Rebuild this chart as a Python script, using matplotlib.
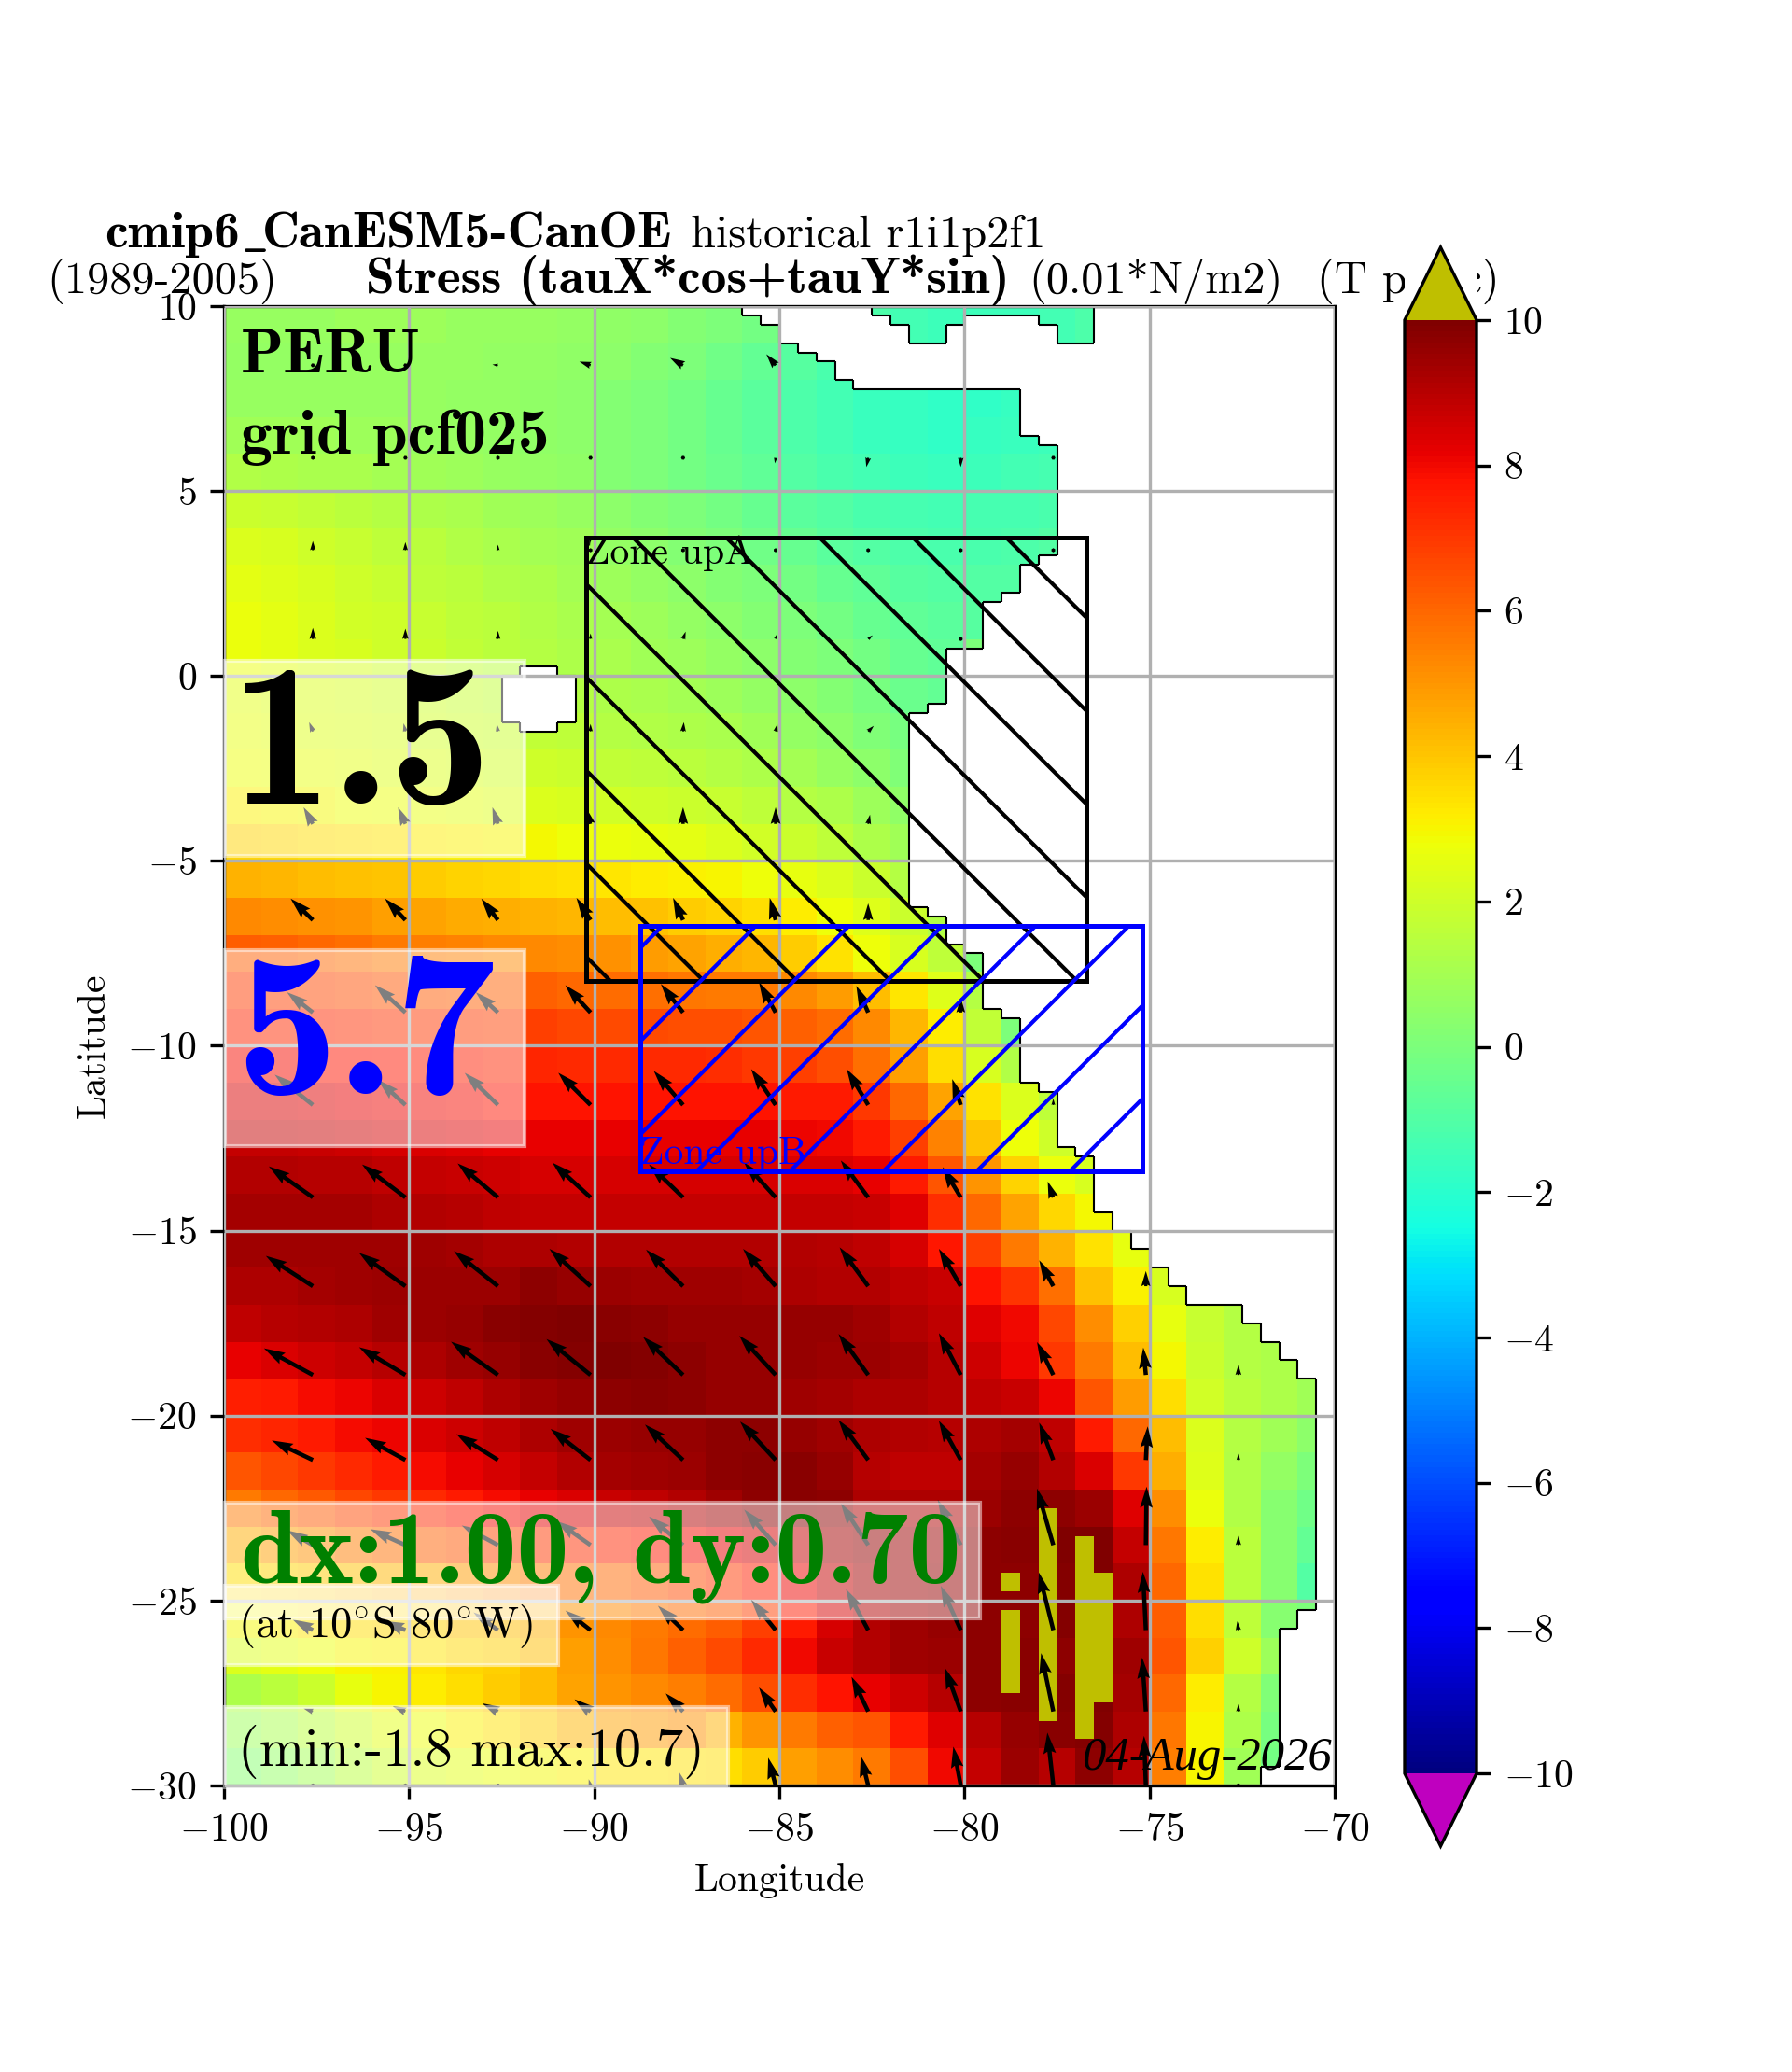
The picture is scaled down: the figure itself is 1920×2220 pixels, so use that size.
import numpy as np
import matplotlib
matplotlib.use('Agg')
import matplotlib.pyplot as plt
from matplotlib.collections import LineCollection
from matplotlib.patches import Rectangle

plt.rcParams['font.family'] = ['cmr10', 'DejaVu Serif']
plt.rcParams['mathtext.fontset'] = 'cm'
plt.rcParams['axes.formatter.use_mathtext'] = True
plt.rcParams['axes.unicode_minus'] = True

# stress field, 1 degree rows from 9.5N southward, columns from 99.5W eastward
field_n = [
 [.7,.7,.7,.8,.8,.8,.7,.7,.7,.6,.5,.4,.2,.0,-.2,-.5,-.8,-1.1,-1.4,-1.5,-1.5,-1.5,-1.4,-1.1,-.8],
 [.6,.6,.6,.7,.7,.7,.7,.6,.6,.5,.4,.2,0,-.3,-.6,-.9,-1.2,-1.4,-1.6,-1.6,-1.6,-1.5,-1.3,-1.1],
 [.7,.7,.7,.7,.7,.7,.6,.6,.5,.4,.2,0,-.2,-.5,-.8,-1.1,-1.4,-1.6,-1.7,-1.8,-1.8,-1.7],
 [.9,.9,.9,.8,.8,.7,.7,.6,.5,.4,.2,0,-.2,-.5,-.8,-1.1,-1.4,-1.6,-1.7,-1.8,-1.7,-1.6,-1.5],
 [1.3,1.2,1.1,1.1,1,.9,.8,.7,.6,.5,.2,0,-.2,-.4,-.7,-1,-1.2,-1.4,-1.5,-1.6,-1.5,-1.4,-1.3],
 [1.9,1.8,1.7,1.5,1.4,1.2,1.1,.9,.8,.7,.4,.2,0,-.2,-.5,-.8,-1,-1.2,-1.3,-1.4,-1.3,-1.3,-1.2],
 [2.3,2.2,2,1.8,1.6,1.5,1.3,1.1,1,.9,.6,.4,.2,0,-.3,-.5,-.8,-1,-1.1,-1.2,-1.2,-1.1,-1],
 [2.5,2.4,2.2,2,1.8,1.6,1.5,1.3,1.2,1,.8,.6,.4,.2,0,-.2,-.5,-.7,-.9,-1,-1,-1],
 [2.7,2.5,2.3,2.1,2,1.8,1.6,1.5,1.3,1.1,1,.8,.6,.4,.2,0,-.2,-.5,-.7,-.8,-.9],
 [2.7,2.5,2.3,2.2,2,1.9,1.7,1.5,1.4,1.2,1.1,.9,.8,.6,.4,.2,0,-.2,-.5,-.7],
]
field_eq = [
 [2.5,2.4,2.3,2.2,2.1,2,1.8,1.7,1.5,1.4,1.2,1.1,1,.8,.6,.4,.2,-.1,-.4,-.6],
 [2.6,2.5,2.4,2.3,2.2,2.1,2,1.9,1.7,1.6,1.4,1.3,1.2,1.1,.9,.6,.4,.1,-.1],
 [2.8,2.7,2.6,2.5,2.4,2.3,2.2,2.1,2,1.9,1.7,1.6,1.5,1.4,1.2,1,.7,.4,.1],
 [3.1,3,2.9,2.8,2.7,2.6,2.5,2.4,2.3,2.2,2.1,2,1.9,1.8,1.6,1.4,1.2,.8,.5],
 [3.7,3.6,3.5,3.4,3.3,3.2,3.1,3,2.9,2.8,2.7,2.6,2.5,2.3,2.1,1.9,1.6,1.2,.9],
 [4.4,4.3,4.2,4.1,4,3.9,3.7,3.6,3.5,3.4,3.3,3.2,3.1,3,2.8,2.6,2.3,1.9,1.4],
 [5.3,5.2,5.1,5,4.8,4.7,4.6,4.5,4.4,4.3,4.2,4.1,3.9,3.7,3.5,3.2,2.8,2.4,1.9,1.3],
 [6.2,6.1,6,5.8,5.6,5.5,5.4,5.3,5.3,5.2,5.1,4.9,4.7,4.5,4.3,3.9,3.4,2.8,2.2,1.6],
 [6.9,6.8,6.7,6.5,6.4,6.3,6.2,6.1,6.1,6,5.9,5.8,5.7,5.6,5.6,5.3,4.9,4.2,3.3,2.4,1.4],
 [7.4,7.3,7.3,7.2,7.1,7,6.9,6.8,6.8,6.7,6.6,6.6,6.5,6.5,6.4,6.1,5.9,5.3,4.3,3.2,1.7],
]
field_s1 = [
 [7.9,7.9,7.8,7.8,7.7,7.6,7.5,7.4,7.4,7.3,7.3,7.3,7.3,7.2,7.0,6.8,6.5,5.8,4.8,3.5,2.2,1.3],
 [8.4,8.4,8.3,8.2,8.1,8,7.9,7.8,7.8,7.8,7.8,7.8,7.8,7.8,7.8,7.6,7.6,7.0,6,4.7,3.4,2.3,1.6],
 [8.8,8.8,8.7,8.6,8.5,8.4,8.3,8.2,8.2,8.2,8.2,8.2,8.2,8.2,8.2,8.1,8,7.6,6.8,5.4,4,2.8,2],
 [9.1,9.1,9,9,8.9,8.8,8.7,8.6,8.5,8.5,8.5,8.5,8.5,8.5,8.5,8.4,8.4,8.2,7.6,6.4,5,3.7,2.7,2.2],
 [9.3,9.3,9.3,9.3,9.2,9.1,9,8.9,8.8,8.8,8.8,8.8,8.8,8.8,8.8,8.8,8.8,8.7,8.3,7.2,6,4.7,3.6,2.9],
 [9.4,9.4,9.4,9.4,9.4,9.4,9.3,9.2,9.2,9.1,9.1,9.1,9.1,9.1,9.1,9.1,9,8.9,8.5,7.7,6.8,5.6,4.4,3.4,2.6],
 [9.2,9.2,9.3,9.4,9.5,9.5,9.5,9.5,9.7,9.6,9.5,9.4,9.4,9.4,9.3,9.2,9.1,9.1,8.9,8.7,7.8,7.1,5.8,4.1,3.1,2.2],
 [8.9,9,9.1,9.2,9.4,9.5,9.6,9.8,9.9,10,9.8,9.7,9.6,9.6,9.6,9.6,9.6,9.4,9.1,8.9,8.3,8,6.7,5.2,3.8,2.6,1.8,1.4],
 [8.2,8.4,8.6,8.8,9,9.2,9.4,9.6,9.8,9.9,10,9.9,9.7,9.6,9.6,9.6,9.5,9.5,9.3,9,8.6,8.1,7,5.6,4.2,2.9,1.9,1.4,1.2],
 [7.5,7.6,7.9,8.1,8.4,8.6,8.9,9.2,9.4,9.6,9.7,9.8,9.7,9.6,9.6,9.4,9.3,9.2,9.2,9,8.9,8.7,8.1,6.4,4.9,3.5,2.1,1.5,1.2,.9],
]
field_s2 = [
 [7.2,7.4,7.6,7.9,8.1,8.4,8.6,8.9,9.2,9.4,9.5,9.6,9.6,9.7,9.7,9.6,9.4,9.2,9.1,9,9.2,9.3,8.9,7.6,6,4.2,2.3,1.4,.9,.4],
 [6.4,6.7,7,7.3,7.6,7.9,8.2,8.5,8.8,9.1,9.3,9.4,9.5,9.7,9.8,9.8,9.6,9,8.9,8.9,9.3,9.6,9.1,8.4,7,4.5,2.4,1.3,.6,.0],
 [5.6,6,6.3,6.7,7,7.3,7.6,7.9,8.2,8.4,8.7,8.9,9.1,9.4,9.7,9.8,9.7,9.2,9.2,9.2,9.5,9.7,9.7,9.5,8.3,5.2,2.7,1.3,.3,-.3],
 [4.5,4.8,5.1,5.5,5.8,6.1,6.4,6.7,7,7.2,7.4,7.6,7.9,8.2,8.5,8.8,9.3,9.6,9.5,9.5,9.7,9.8,10,10,8.8,5.7,3.2,1.5,.3,-.6],
 [3.5,3.7,3.9,4.1,4.3,4.5,4.9,5.2,5.5,5.8,6,6.3,6.6,7,7.5,8.1,8.8,9.3,9.5,9.6,9.7,9.7,9.9,10,9.2,6,3.4,1.5,.3,-1],
 [2.9,3.1,3.3,3.5,3.6,3.7,4,4.2,4.4,5,5.3,5.6,5.9,6.2,6.8,7.6,8.5,9.1,9.4,9.6,9.7,9.7,9.9,9.9,9.2,6.2,3.5,1.6,.3],
 [2.3,2.5,2.8,3,3.1,3.3,3.6,3.8,4.2,4.8,5.2,5.7,6.1,6.6,7.3,8,8.7,9.1,9.4,9.5,9.7,9.8,9.7,10,9.4,6.4,3.8,2,.8],
 [1.2,1.5,1.9,2.6,3,3.2,3.5,3.9,4.2,4.7,5,5.3,5.5,5.9,6.5,7.2,7.8,8.2,8.6,9,9.7,9.8,9.9,10,9.3,6,3.2,1.4,.1],
 [.8,1.1,1.5,2,2.5,2.8,3.1,3.4,3.8,4.3,4.7,4.9,5.1,4.4,5,5.6,6.1,6.4,7.6,8.3,9,9.6,9.8,9.9,9.2,5.7,3,1.2,-.1],
 [.3,.6,1,1.5,2,2.3,2.5,2.7,2.9,3.1,3.3,3.3,3.4,3.5,3.9,4.8,5.2,5.6,6.5,8,8.8,9.5,9,9.7,9,5.5,3,.9,-.2],
]

# cells above the colour range: lon west, lon east, lat top, lat bottom
over_west = [-79.0, -79.0, -78.0, -77.0, -76.5]
over_east = [-78.5, -78.5, -77.5, -76.5, -76.0]
over_top = [-24.25, -25.25, -22.5, -23.25, -24.25]
over_bot = [-24.75, -27.5, -28.25, -28.75, -27.75]

# east limit of the open ocean on the South American side
coast_lat_top = [10, 9.75, 9.5, 9.0, 8.75, 8.5, 8.0, 7.75, 6.5, 6.25, 3.25, 3.0, 2.25, 2.0, 0.75, -0.75, -1.0,
                 -6.25, -6.5, -7.25, -7.5, -9.0, -9.25, -11.0, -11.25, -12.75, -13.0, -14.5, -15.0, -15.5, -16.0,
                 -16.5, -17.0, -17.5, -18.0, -18.5, -19.0, -25.25, -25.75, -29.5]
coast_lon = [-86, -85.5, -85, -84.5, -84, -83.5, -83, -78.5, -78, -77.5, -78, -78.5, -79, -79.5, -80.5, -81, -81.5,
             -81, -80.5, -80, -79.5, -79, -78.5, -78, -77.5, -77, -76.5, -76, -75.5, -75, -74.5,
             -74, -72.5, -72, -71.5, -71, -70.5, -71, -71.5, -72]

# Caribbean water in the top right corner: lat top, lat bottom, lon west, lon east
carib_top = [10.0, 9.75, 9.75, 9.5, 9.5]
carib_bot = [9.75, 9.5, 9.5, 9.0, 9.0]
carib_west = [-82.5, -82.0, -78.0, -81.5, -77.5]
carib_east = [-76.5, -80.0, -76.5, -80.5, -76.5]

# Galapagos land cells: lat top, lat bottom, lon west, lon east
gala_top = [0.25, 0.0, -1.25]
gala_bot = [0.0, -1.25, -1.5]
gala_west = [-92.0, -92.5, -92.0]
gala_east = [-91.0, -90.5, -91.0]

# stress arrows
arrow_lon = [-97.6, -95.1, -92.6, -90.1, -87.6, -85.1, -82.6, -80.1, -77.6, -75.1, -72.6]
arrow_lat = [8.4, 5.9, 3.4, 1.0, -1.5, -4.0, -6.6, -9.1, -11.6, -14.1, -16.5, -18.9, -21.2, -23.5, -25.8, -28.0, -30.0]
N = np.nan
arrow_u = [
 [-.05,-.05,-.15,-.3,-.35,-.25,N,N,N,N,N],
 [0,.03,0,0,.05,-.02,-.05,0,.05,N,N],
 [0,0,0,0,0,0,0,0,0,N,N],
 [0,0,0,0,.07,.05,.12,.05,N,N,N],
 [-.1,-.05,-.03,0,.02,.05,.15,N,N,N,N],
 [-.25,-.2,-.15,-.1,0,0,.05,N,N,N,N],
 [-.6,-.55,-.45,-.38,-.27,-.16,0,N,N,N,N],
 [-.7,-.82,-.6,-.68,-.6,-.45,-.32,0,N,N,N],
 [-1.03,-.74,-.9,-.87,-.79,-.66,-.58,-.23,0,N,N],
 [-1.19,-1.17,-1.09,-1.03,-.92,-.85,-.74,-.49,-.15,N,N],
 [-1.27,-1.25,-1.19,-1.11,-1.0,-.88,-.77,-.59,-.38,0,N],
 [-1.32,-1.25,-1.27,-1.19,-1.08,-.98,-.8,-.59,-.44,-.07,0],
 [-1.11,-1.09,-1.12,-1.08,-1.03,-.96,-.8,-.59,-.38,.05,0],
 [-.7,-.95,-.98,-.92,-.92,-.85,-.74,-.62,-.44,.02,0],
 [-.55,-.6,-.66,-.68,-.68,-.66,-.6,-.54,-.39,-.08,-.03],
 [-.25,-.34,-.42,-.43,-.47,-.45,-.45,-.43,-.33,-.1,0],
 [0,0,-.02,-.05,-.1,-.2,-.2,-.2,-.16,-.05,0],
]
arrow_v = [
 [0,0,.02,.1,.2,.3,N,N,N,N,N],
 [-.05,-.08,-.05,0,-.1,-.15,-.25,-.25,-.1,N,N],
 [.25,.22,.15,.03,.03,.03,.03,.03,.03,N,N],
 [.3,.28,.22,.15,.2,.15,.1,.02,N,N,N],
 [.25,.22,.2,.2,.25,.2,.15,N,N,N,N],
 [.45,.45,.45,.4,.45,.45,.25,N,N,N,N],
 [.58,.58,.58,.6,.6,.6,.45,N,N,N,N],
 [.55,.74,.55,.74,.77,.82,.72,.4,N,N,N],
 [.82,.68,.87,.87,.92,.97,.97,.7,.17,N,N],
 [.84,.89,.92,.94,.89,.94,1.0,.82,.43,N,N],
 [.82,.9,.95,1.01,.99,1.01,1.05,1.01,.7,.41,N],
 [.72,.75,.9,.97,1.03,1.06,1.11,1.13,.89,.74,.27],
 [.53,.6,.7,.84,.96,1.04,1.08,1.06,1.01,.91,.17],
 [.4,.43,.53,.65,.77,.96,1.13,1.22,1.53,1.58,.25],
 [.29,.25,.48,.53,.66,.82,1.11,1.2,1.56,1.58,.24],
 [.08,.14,.22,.33,.49,.65,.94,1.18,1.58,1.46,.2],
 [.02,.03,.05,.17,.35,.75,.8,1.05,1.43,1.34,.1],
]

cbar_ticks = [-10, -8, -6, -4, -2, 0, 2, 4, 6, 8, 10]

rows = field_n + field_eq + field_s1 + field_s2
table = np.zeros((40, 30))
for i, r in enumerate(rows):
    table[i, :len(r)] = r
values = np.kron(table, np.ones((4, 2)))
lon_edges = np.arange(-100, -69.9, 0.5)
lat_edges = np.arange(10, -30.1, -0.25)
lon_c = 0.5 * (lon_edges[:-1] + lon_edges[1:])
lat_c = 0.5 * (lat_edges[:-1] + lat_edges[1:])
LON, LAT = np.meshgrid(lon_c, lat_c)

for w, e, t, b in zip(over_west, over_east, over_top, over_bot):
    values[(LON > w) & (LON < e) & (LAT < t) & (LAT > b)] = 10.7

ocean = np.zeros_like(values, dtype=bool)
for j, la in enumerate(lat_c):
    k = np.searchsorted(-np.array(coast_lat_top), -la) - 1
    ocean[j, lon_c < coast_lon[k]] = True
for t, b, w, e in zip(carib_top, carib_bot, carib_west, carib_east):
    ocean[(LON > w) & (LON < e) & (LAT < t) & (LAT > b)] = True
for t, b, w, e in zip(gala_top, gala_bot, gala_west, gala_east):
    ocean[(LON > w) & (LON < e) & (LAT < t) & (LAT > b)] = False

segs = []
ny, nx = ocean.shape
for j in range(ny):
    for i in range(nx):
        if i + 1 < nx and ocean[j, i] != ocean[j, i + 1]:
            segs.append([(lon_edges[i + 1], lat_edges[j]), (lon_edges[i + 1], lat_edges[j + 1])])
        if j + 1 < ny and ocean[j, i] != ocean[j + 1, i]:
            segs.append([(lon_edges[i], lat_edges[j + 1]), (lon_edges[i + 1], lat_edges[j + 1])])

W, H = 1920, 2220
BOLD = ['cmb10', 'cmr10', 'DejaVu Serif']
fig = plt.figure(figsize=(6.4, 7.4), dpi=300)
ax = fig.add_axes([240 / W, (H - 1913) / H, 1190 / W, 1585 / H])
cmap = plt.get_cmap('jet').copy()
cmap.set_over((0.75, 0.75, 0))
cmap.set_under((0.75, 0, 0.75))
mesh = ax.pcolormesh(lon_edges, lat_edges, np.ma.masked_where(~ocean, values), cmap=cmap, vmin=-10, vmax=10,
                     antialiased=False, linewidth=0)
ax.add_collection(LineCollection(segs, colors='k', linewidths=0.5, zorder=1.5))
ax.set_xlim(-100, -70)
ax.set_ylim(-30, 10)
ax.set_xticks(np.arange(-100, -69, 5))
ax.set_yticks(np.arange(-30, 11, 5))
ax.grid(True, color='#b0b0b0', lw=0.8)
ax.set_axisbelow(False)
ax.set_xlabel('Longitude', fontsize=10)
ax.set_ylabel('Latitude', fontsize=10)
ax.tick_params(labelsize=10)

lo, la = np.meshgrid(arrow_lon, arrow_lat)
ax.quiver(lo, la, np.array(arrow_u), np.array(arrow_v), angles='xy', scale_units='xy', scale=1,
          units='width', width=0.0038, color='k', zorder=3)


def zone(x0, x1, y0, y1, color, sign, c0, step, label, ly):
    r = Rectangle((x0, y0), x1 - x0, y1 - y0, fill=False, ec=color, lw=1.2, zorder=4)
    ax.add_patch(r)
    for c in np.arange(c0 - 20 * step, c0 + 20 * step, step):
        xs = np.array([x0, x1])
        ys = sign * xs + c
        ln, = ax.plot(xs, ys, color=color, lw=1.0, zorder=4)
        ln.set_clip_path(r)
    ax.text(x0, ly, label, color=color, fontsize=10, va='baseline', ha='left', zorder=4)


zone(-90.22, -76.7, -8.25, 3.73, 'k', -1, -75.13, 2.52, 'Zone upA', 3.03)
zone(-88.75, -75.2, -13.4, -6.75, 'b', 1, 66.28, 2.52, 'Zone upB', -13.2)


def note(s, px, py, size, box=None, z=6.0, **kw):
    """Annotation at a pixel position, with an optional translucent box given in pixels."""
    if box is not None:
        x0, x1, y0, y1 = box
        ax.add_patch(Rectangle((x0 / W, (H - y1) / H), (x1 - x0) / W, (y1 - y0) / H, transform=fig.transFigure,
                               fc='white', ec='white', alpha=0.5, lw=1, clip_on=False, zorder=z))
    return ax.text(px / W, (H - py) / H, s, transform=fig.transFigure, fontsize=size, clip_on=False,
                   zorder=z + 0.05, **kw)


note('PERU', 258, 399, 16.2, family=BOLD)
note('grid pcf025', 258, 486, 16.2, family=BOLD)
note('1.5', 247, 861, 52.5, box=(241, 562, 708, 917), family=BOLD)
note('5.7', 252, 1172, 52.5, box=(241, 562, 1018, 1228), family=BOLD, color='b')
note('dx:1.00, dy:0.70', 258, 1695, 26.9, box=(241, 1050, 1610, 1734), z=6.2, family=BOLD, color='g')
note(r'(at 10$^{\circ}$S 80$^{\circ}$W)', 255, 1754, 11.2, box=(241, 598, 1699, 1784), z=6.4)
note('(min:-1.8 max:10.7)', 255, 1892, 14, box=(241, 780, 1829, 1915), z=6.6)
note('04-Aug-2026', 1427, 1896, 12.2, z=6.8, ha='right', family='Liberation Serif', style='italic')

note('cmip6', 112, 265, 13.3, family=BOLD)
note(r'$\_$', 258, 265, 13.3)
note('CanESM5-CanOE', 281, 265, 13.3, family=BOLD)
note('historical r1i1p2f1', 740, 265, 11.6)
note('(1989-2005)', 50, 314, 11.6)
note('Stress (tauX*cos+tauY*sin)', 392, 314, 13.3, family=BOLD)
note('(0.01*N/m2)', 1102, 314, 11.6)
note('(T pa.cc)', 1411, 314, 11.6)

cax = fig.add_axes([1505 / W, (H - 1978) / H, 77 / W, (1978 - 265) / H])
cax.set_zorder(5)
cb = fig.colorbar(mesh, cax=cax, extend='both', ticks=cbar_ticks)
cb.ax.tick_params(labelsize=10)
cb.outline.set_linewidth(0.8)
cax.add_patch(Rectangle((0, -0.06), 1, 1.12, transform=cax.transAxes, fc='white', ec='none', clip_on=False, zorder=-5))

fig.savefig('out.png', dpi=300)
